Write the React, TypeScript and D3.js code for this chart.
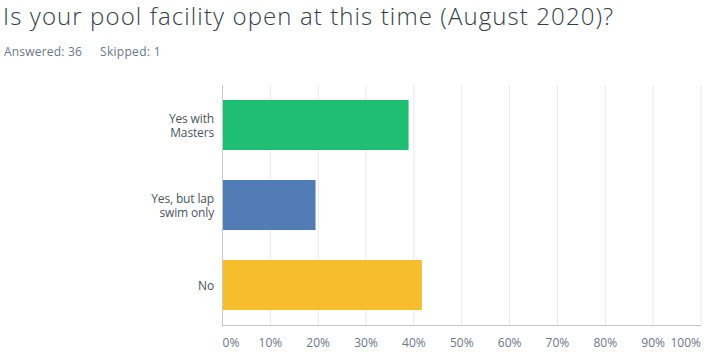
import React from "react";
import * as d3 from "d3";

const categories = ["Yes with Masters", "Yes, but lap swim only", "No"];
const categoryLines = [["Yes with", "Masters"], ["Yes, but lap", "swim only"], ["No"]];
const values = [38.89, 19.44, 41.67];
const colors = ["#1fbf73", "#517cb5", "#f6be2d"];
const ticks = [0, 10, 20, 30, 40, 50, 60, 70, 80, 90, 100];
const title = "Is your pool facility open at this time (August 2020)?";
const answered = "Answered: 36";
const skipped = "Skipped: 1";

export default function App() {
  const W = 723, H = 357;
  const x = d3.scaleLinear().domain([0, 100]).range([222.5, 701]);
  const y = d3.scaleBand().domain(categories).range([85, 325]).paddingInner(0.375).paddingOuter(0.1875);
  const font = "'Open Sans', sans-serif";
  const textColor = "#333e48";
  return (
    <svg width={W} height={H} style={{ position: "absolute", left: 0, top: 0, background: "#fff" }}>
      <text x={3} y={25} fontSize={24} fontWeight={300} fill={textColor} fontFamily={font} letterSpacing={1.1}>{title}</text>
      <text x={4} y={56} fontSize={12} fill="#6b7787" fontFamily={font} letterSpacing={0.2}>{answered}</text>
      <text x={100} y={56} fontSize={12} fill="#6b7787" fontFamily={font} letterSpacing={0.3}>{skipped}</text>
      {ticks.slice(1).map(t => (
        <line key={t} x1={x(t)} x2={x(t)} y1={85} y2={325} stroke="#e8e8e8" strokeWidth={1} />
      ))}
      {categories.map((c, i) => (
        <rect key={c} x={x(0)} y={y(c)} width={x(values[i]) - x(0)} height={y.bandwidth()} fill={colors[i]} />
      ))}
      <line x1={x(0)} x2={x(100)} y1={325.5} y2={325.5} stroke="#c8c8c8" />
      <line x1={222.5} x2={222.5} y1={85} y2={326} stroke="#c8c8c8" />
      {categories.map((c, i) => {
        const lines = categoryLines[i];
        const cy = (y(c) as number) + y.bandwidth() / 2;
        const lh = 14;
        return lines.map((l, j) => (
          <text key={c + j} x={214} y={cy + (j - (lines.length - 1) / 2) * lh + 4.5} textAnchor="end"
            fontSize={12} letterSpacing={-0.15} fill="#4a5561" fontFamily={font}>{l}</text>
        ));
      })}
      {ticks.map((t, i) => (
        <text key={t} x={x(t)} y={347} fontSize={12} fill="#6b7787" fontFamily={font}
          textAnchor={i === 0 ? "start" : i === ticks.length - 1 ? "end" : "middle"}>{t}%</text>
      ))}
    </svg>
  );
}
